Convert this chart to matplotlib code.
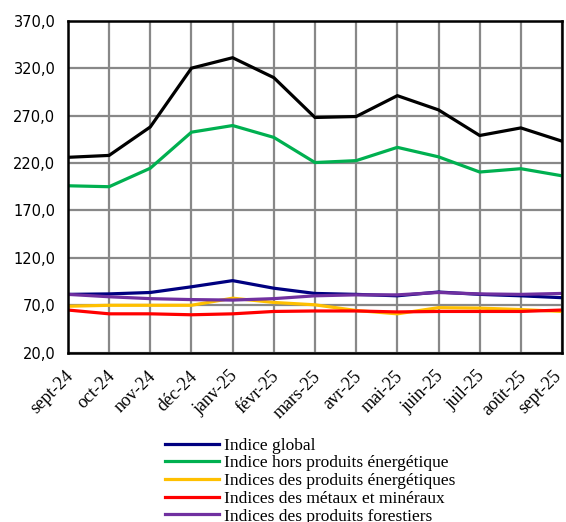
import matplotlib
matplotlib.use("Agg")
import matplotlib.pyplot as plt
from matplotlib.ticker import FuncFormatter
from matplotlib.transforms import ScaledTranslation

# months on the x axis
mois = ["sept-24", "oct-24", "nov-24", "déc-24", "janv-25", "févr-25", "mars-25",
        "avr-25", "mai-25", "juin-25", "juil-25", "août-25", "sept-25"]

# values
indice_global = [81.5, 82, 83.5, 89.5, 96, 88, 82.5, 81.5, 80, 84, 81.5, 80, 78]
hors_energie = [196, 195, 214.5, 252.5, 259.5, 247, 220.5, 222.5, 236.5, 226.5, 210.5, 214, 206.5]
energie = [69, 70, 70, 70, 77.5, 73, 70.5, 64.5, 61, 67.5, 67, 65.5, 63.5]
metaux = [65, 61, 61, 60, 61, 63.5, 64, 64, 63, 63.5, 63.5, 63.5, 65]
forestiers = [81.5, 79, 77, 76, 75.5, 77, 80, 81, 81, 83.5, 82, 81.5, 82.5]
agricoles = [226, 228, 258, 320, 331, 310, 268, 269, 291, 276, 249, 257, 243]

series = [
    ("Indice global", indice_global, "#000080"),
    ("Indice hors produits énergétique", hors_energie, "#00B050"),
    ("Indices des produits énergétiques", energie, "#FFC000"),
    ("Indices des métaux et minéraux", metaux, "#FF0000"),
    ("Indices des produits forestiers", forestiers, "#7030A0"),
    ("Indices des produits agricoles", agricoles, "#000000"),
]

fig = plt.figure(figsize=(5.66, 5.22), dpi=100)
ax = fig.add_axes([0.120, 0.3243, 0.873, 0.636])

x = list(range(len(mois)))
for nom, vals, couleur in series:
    ax.plot(x, vals, color=couleur, linewidth=2.3, label=nom, solid_joinstyle="miter")

ax.set_xlim(0, len(mois) - 1)
ax.set_ylim(20, 370)
ax.set_yticks(range(20, 371, 50))
ax.yaxis.set_major_formatter(FuncFormatter(lambda v, p: f"{v:.1f}".replace(".", ",")))
ax.set_xticks(x)
ax.tick_params(axis="y", length=0, pad=9, labelsize=10.5)
ax.tick_params(axis="x", length=0, pad=13)
labels = ax.set_xticklabels(mois, rotation=45, ha="right", va="center", rotation_mode="anchor",
                            family="Liberation Serif", fontsize=13)
# nudge the month labels a little right and down, like the original
# (the last one sits a bit left so it stays inside the picture)
for i, lab in enumerate(labels):
    dx = 3 if i < len(labels) - 1 else -3
    lab.set_transform(lab.get_transform() + ScaledTranslation(dx / 100, -3 / 100, fig.dpi_scale_trans))

ax.grid(True, color="#888888", linewidth=1.6)
ax.set_axisbelow(True)
for s in ax.spines.values():
    s.set_color("black")
    s.set_linewidth(1.8)

fig.legend(loc="upper left", bbox_to_anchor=(165 / 566, 1 - 437.5 / 522), frameon=False,
           prop={"family": "Liberation Serif", "size": 12.5}, handlelength=3.1,
           handletextpad=0.3, labelspacing=0.09, borderpad=0, borderaxespad=0)

fig.savefig("out.png", dpi=100)
